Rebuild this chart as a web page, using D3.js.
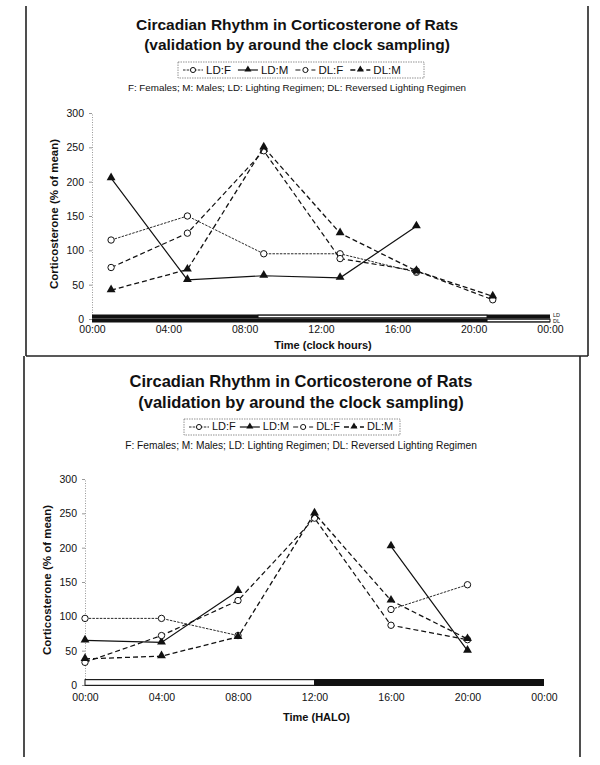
<!DOCTYPE html>
<html>
<head>
<meta charset="utf-8">
<script src="https://cdn.jsdelivr.net/npm/d3@7"></script>
<style>
  body { margin: 0; background: #fff; }
  svg { display: block; }
  text { font-family: "Liberation Sans", Arial, sans-serif; fill: #111; }
</style>
</head>
<body>
<svg id="page" width="600" height="765"></svg>
<script>
// ---- data ----
const seriesNames = ["LD:F", "LD:M", "DL:F", "DL:M"];

// upper panel, clock hours
const clockHours = [1, 5, 9, 13, 17, 21];
const clockLDF = [115, 150, 95, 95, 68, null];
const clockLDM = [205, 57, 63, 60, 135, null];
const clockDLF = [75, 125, 245, 88, 70, 28];
const clockDLM = [42, 72, 250, 125, 70, 33];

// lower panel, hours after lights on
const haloHours = [0, 4, 8, 12, 16, 20];
const haloLDF = [97, 97, 72, null, 110, 146];
const haloLDM = [65, 62, 137, null, 202, 50];
const haloDLF = [33, 72, 123, 243, 87, 66];
const haloDLM = [38, 42, 70, 250, 123, 67];

const yTicks = [0, 50, 100, 150, 200, 250, 300];
const xTickHours = [0, 4, 8, 12, 16, 20, 24];
const xTickLabels = ["00:00", "04:00", "08:00", "12:00", "16:00", "20:00", "00:00"];

// light periods (hours) drawn as open segments of the light/dark bar
const clockLightLD = [[8.7, 20.7]];
const clockLightDL = [[20.7, 24]];
const haloLight = [[0, 12]];

const titleLines = ["Circadian Rhythm in Corticosterone of Rats", "(validation by around the clock sampling)"];
const noteText = "F: Females; M: Males; LD: Lighting Regimen; DL: Reversed Lighting Regimen";
const yLabel = "Corticosterone (% of mean)";

// ---- styles per series ----
const seriesStyle = {
  "LD:F": { dash: "2.5,1.2", width: 0.9, mark: "circle" },
  "LD:M": { dash: null, width: 1.2, mark: "triangle" },
  "DL:F": { dash: "5,3", width: 1.2, mark: "circle" },
  "DL:M": { dash: "5,3", width: 1.3, mark: "triangle" }
};

const svg = d3.select("#page");

// scan frame
const frame = svg.append("g").attr("stroke", "#222").attr("fill", "none");
frame.append("line").attr("x1", 26).attr("x2", 26).attr("y1", 6).attr("y2", 356).attr("stroke-width", 1.6);
frame.append("line").attr("x1", 588).attr("x2", 588).attr("y1", 6).attr("y2", 356).attr("stroke-width", 1.6);
frame.append("line").attr("x1", 26).attr("x2", 588).attr("y1", 356).attr("y2", 356).attr("stroke-width", 1.4);
frame.append("line").attr("x1", 24).attr("x2", 24).attr("y1", 356).attr("y2", 757).attr("stroke-width", 1.6);
frame.append("line").attr("x1", 580).attr("x2", 580).attr("y1", 356).attr("y2", 757).attr("stroke-width", 1.6);

function drawPanel(cfg) {
  const g = svg.append("g");
  const x = d3.scaleLinear().domain([0, 24]).range([cfg.left, cfg.right]);
  const y = d3.scaleLinear().domain([0, 300]).range([cfg.zeroY, cfg.topY]);

  // titles
  titleLines.forEach((t, i) => {
    g.append("text").attr("x", cfg.cx).attr("y", cfg.titleY[i])
      .attr("text-anchor", "middle").attr("dominant-baseline", "middle")
      .attr("font-size", cfg.titleSize).attr("font-weight", "bold").text(t);
  });

  // legend
  const lg = g.append("g").attr("transform", `translate(${cfg.legend.x},${cfg.legend.y})`);
  lg.append("rect").attr("width", cfg.legend.w).attr("height", 16)
    .attr("fill", "none").attr("stroke", "#777").attr("stroke-width", 0.8).attr("stroke-dasharray", "1.5,1");
  let lx = 5;
  seriesNames.forEach(name => {
    const st = seriesStyle[name];
    lg.append("line").attr("x1", lx).attr("x2", lx + 20).attr("y1", 8).attr("y2", 8)
      .attr("stroke", "#111").attr("stroke-width", st.width).attr("stroke-dasharray", st.dash);
    drawMarker(lg, st.mark, lx + 10, 8, 0.8);
    const t = lg.append("text").attr("x", lx + 23).attr("y", 8.5).attr("dominant-baseline", "middle")
      .attr("font-size", cfg.legend.size).text(name);
    lx += 23 + t.node().getComputedTextLength() + cfg.legend.gap;
  });

  g.append("text").attr("x", cfg.cx).attr("y", cfg.noteY).attr("text-anchor", "middle")
    .attr("dominant-baseline", "middle").attr("font-size", cfg.noteSize).text(noteText);

  // y axis
  const yAxis = g.append("g").attr("transform", `translate(${cfg.left},0)`)
    .call(d3.axisLeft(y).tickValues(yTicks).tickSize(3).tickPadding(5));
  yAxis.select(".domain").attr("stroke", "#999").attr("stroke-dasharray", "1,1.5");
  yAxis.selectAll(".tick line").attr("stroke", "#999");
  yAxis.selectAll(".tick text").attr("font-size", 10.5).attr("fill", "#111")
    .attr("font-family", "'Liberation Sans', Arial, sans-serif");

  g.append("text").attr("transform", `translate(${cfg.left - 37},${(cfg.zeroY + cfg.topY) / 2 - 2}) rotate(-90)`)
    .attr("text-anchor", "middle").attr("dominant-baseline", "middle")
    .attr("font-size", 11.5).attr("font-weight", "bold").text(yLabel);

  // light/dark bar
  cfg.bars.forEach(b => {
    g.append("rect").attr("x", x(0)).attr("width", x(24) - x(0))
      .attr("y", b.y).attr("height", b.h).attr("fill", "#111");
    b.light.forEach(p => {
      g.append("rect").attr("x", x(p[0])).attr("width", x(p[1]) - x(p[0]))
        .attr("y", b.y + 0.7).attr("height", b.h - 1.4)
        .attr("fill", "#fff").attr("stroke", "#111").attr("stroke-width", 1);
    });
  });
  if (cfg.barTags) {
    cfg.barTags.forEach(tag => {
      g.append("text").attr("x", x(24) + 3).attr("y", tag.y).attr("dominant-baseline", "middle")
        .attr("font-size", 5.5).text(tag.t);
    });
  }

  // x axis labels
  const xAxis = g.append("g").attr("transform", `translate(0,${cfg.xLabelY})`)
    .call(d3.axisBottom(x).tickValues(xTickHours).tickSize(0).tickPadding(0)
      .tickFormat((d, i) => xTickLabels[i]));
  xAxis.select(".domain").remove();
  xAxis.selectAll(".tick text").attr("font-size", 10.5).attr("fill", "#111")
    .attr("font-family", "'Liberation Sans', Arial, sans-serif");

  g.append("text").attr("x", x(12) + 2).attr("y", cfg.xTitleY).attr("text-anchor", "middle")
    .attr("dominant-baseline", "middle").attr("font-size", 11).attr("font-weight", "bold").text(cfg.xTitle);

  // series
  const line = d3.line().defined(d => d.v != null).x(d => x(d.h)).y(d => y(d.v));
  seriesNames.forEach((name, si) => {
    const st = seriesStyle[name];
    const pts = cfg.hours.map((h, i) => ({ h: h, v: cfg.values[si][i] }));
    g.append("path").datum(pts).attr("d", line).attr("fill", "none")
      .attr("stroke", "#111").attr("stroke-width", st.width).attr("stroke-dasharray", st.dash);
    pts.filter(d => d.v != null).forEach(d => drawMarker(g, st.mark, x(d.h), y(d.v), 1));
  });
}

function drawMarker(g, kind, px, py, k) {
  if (kind === "circle") {
    g.append("circle").attr("cx", px).attr("cy", py).attr("r", 3.2 * k)
      .attr("fill", "#fff").attr("stroke", "#111").attr("stroke-width", 1);
  } else {
    g.append("path").attr("d", d3.symbol(d3.symbolTriangle, 34 * k * k)())
      .attr("transform", `translate(${px},${py - 0.5})`).attr("fill", "#111");
  }
}

drawPanel({
  left: 92, right: 550, zeroY: 319, topY: 113, cx: 297,
  titleY: [26, 46], titleSize: 15.5,
  legend: { x: 178, y: 62, w: 246, size: 11.5, gap: 7 },
  noteY: 88, noteSize: 9.8,
  hours: clockHours,
  values: [clockLDF, clockLDM, clockDLF, clockDLM],
  bars: [{ y: 314.5, h: 4, light: clockLightLD }, { y: 318.5, h: 4, light: clockLightDL }],
  barTags: [{ y: 316, t: "LD" }, { y: 322, t: "DL" }],
  xLabelY: 326, xTitle: "Time (clock hours)", xTitleY: 346
});

drawPanel({
  left: 85, right: 544, zeroY: 685, topY: 479, cx: 301,
  titleY: [383, 404], titleSize: 16.5,
  legend: { x: 184, y: 419, w: 216, size: 11, gap: 4 },
  noteY: 446, noteSize: 10.2,
  hours: haloHours,
  values: [haloLDF, haloLDM, haloDLF, haloDLM],
  bars: [{ y: 679, h: 7, light: haloLight }],
  xLabelY: 694, xTitle: "Time (HALO)", xTitleY: 718
});
</script>
</body>
</html>
